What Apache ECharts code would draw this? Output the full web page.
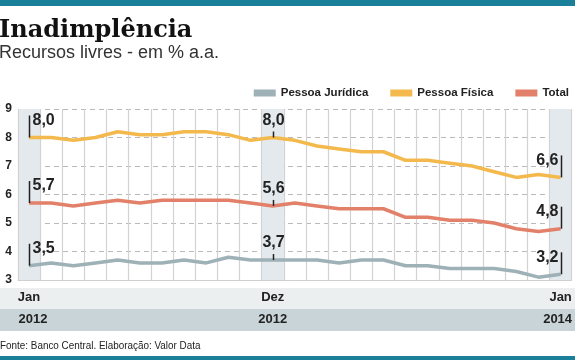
<!DOCTYPE html>
<html>
<head>
<meta charset="utf-8">
<script src="https://cdn.jsdelivr.net/npm/echarts@6/dist/echarts.min.js"></script>
<style>
  html, body { margin: 0; padding: 0; background: #fff; }
  #chart { width: 575px; height: 360px; }
</style>
</head>
<body>
<div id="chart"></div>
<script>
// ---- data ----
const categories = [
  'Jan/12','Fev/12','Mar/12','Abr/12','Mai/12','Jun/12','Jul/12','Ago/12','Set/12','Out/12','Nov/12','Dez/12',
  'Jan/13','Fev/13','Mar/13','Abr/13','Mai/13','Jun/13','Jul/13','Ago/13','Set/13','Out/13','Nov/13','Dez/13',
  'Jan/14'
];
const pessoaJuridica = [3.5, 3.6, 3.5, 3.6, 3.7, 3.6, 3.6, 3.7, 3.6, 3.8, 3.7, 3.7,
                        3.7, 3.7, 3.6, 3.7, 3.7, 3.5, 3.5, 3.4, 3.4, 3.4, 3.3, 3.1, 3.2];
const pessoaFisica   = [8.0, 8.0, 7.9, 8.0, 8.2, 8.1, 8.1, 8.2, 8.2, 8.1, 7.9, 8.0,
                        7.9, 7.7, 7.6, 7.5, 7.5, 7.2, 7.2, 7.1, 7.0, 6.8, 6.6, 6.7, 6.6];
const total          = [5.7, 5.7, 5.6, 5.7, 5.8, 5.7, 5.8, 5.8, 5.8, 5.8, 5.7, 5.6,
                        5.7, 5.6, 5.5, 5.5, 5.5, 5.2, 5.2, 5.1, 5.1, 5.0, 4.8, 4.7, 4.8];
const seriesNames = ['Pessoa Jurídica', 'Pessoa Física', 'Total'];
const markedIdx = [0, 11, 24];
const monthTickLabels = ['Jan', 'Dez', 'Jan'];
const yearTickLabels = ['2012', '2012', '2014'];
const yMin = 3, yMax = 9, yInterval = 1;

// ---- style ----
const colors = ['#9db1b6', '#f3b94c', '#e2806a'];
const shade = '#e3e9ed';
const dark = '#222';

const chart = echarts.init(document.getElementById('chart'), null, { renderer: 'canvas' });

const areaColors = categories.map((c, i) => markedIdx.includes(i) ? shade : 'rgba(0,0,0,0)');

function tickIndex(i) { return markedIdx.indexOf(i); }

const option = {
  backgroundColor: '#fff',
  animation: false,
  title: {
    text: 'Inadimplência',
    subtext: 'Recursos livres - em % a.a.',
    left: -1, top: 19, padding: 0, itemGap: 1,
    textStyle: { fontFamily: 'DejaVu Serif', fontWeight: 'bold', fontSize: 24, color: '#111' },
    subtextStyle: { fontFamily: 'Liberation Sans', fontSize: 18, color: '#333' }
  },
  legend: {
    right: 1, top: 82,
    icon: 'rect', itemWidth: 22, itemHeight: 7, itemGap: 22,
    textStyle: { fontFamily: 'Liberation Sans', fontWeight: 'bold', fontSize: 11.5, color: dark },
    data: seriesNames
  },
  grid: { left: 18, right: 0, top: 109, bottom: 80, containLabel: false },
  xAxis: [{
    type: 'category', data: categories, boundaryGap: true,
    axisLine: { show: true, lineStyle: { color: '#cfcfcf', width: 1 } },
    axisTick: { show: false },
    axisLabel: {
      interval: (i) => markedIdx.includes(i),
      formatter: (v, i) => monthTickLabels[tickIndex(i)] || '',
      margin: 11, fontFamily: 'Liberation Sans', fontWeight: 'bold', fontSize: 13, color: dark
    },
    splitLine: { show: true, interval: 0, lineStyle: { color: '#d2d2d2', width: 1.2 } },
    splitArea: { show: true, interval: 0, areaStyle: { color: areaColors } },
    z: 1
  }, {
    type: 'category', data: categories, boundaryGap: true, position: 'bottom',
    axisLine: { show: false }, axisTick: { show: false },
    splitLine: { show: false },
    axisLabel: {
      interval: (i) => markedIdx.includes(i),
      formatter: (v, i) => {
        const k = tickIndex(i);
        if (k < 0) return '';
        if (k === 0) return '{s|' + yearTickLabels[k] + '}';
        if (k === markedIdx.length - 1) return '{e|' + yearTickLabels[k] + '}';
        return yearTickLabels[k];
      },
      rich: {
        s: { padding: [0, 0, 0, 8], fontFamily: 'Liberation Sans', fontWeight: 'bold', fontSize: 13, color: dark },
        e: { padding: [0, 6, 0, 0], fontFamily: 'Liberation Sans', fontWeight: 'bold', fontSize: 13, color: dark }
      },
      margin: 33, fontFamily: 'Liberation Sans', fontWeight: 'bold', fontSize: 13, color: dark
    }
  }],
  yAxis: {
    type: 'value', min: yMin, max: yMax, interval: yInterval,
    axisLine: { show: false }, axisTick: { show: false },
    axisLabel: { margin: 6, fontFamily: 'Liberation Sans', fontWeight: 'bold', fontSize: 12, color: dark },
    splitLine: { show: true, lineStyle: { color: '#b9b9b9', type: [5, 4], width: 1 } }
  },
  graphic: [
    { id: 'topbar', type: 'rect', left: 0, top: 0, shape: { width: 575, height: 6 }, style: { fill: '#1a7f99' }, z: 0 },
    { id: 'band1', type: 'rect', left: 0, top: 288, shape: { width: 575, height: 21 }, style: { fill: '#eceff0' }, z: -10 },
    { id: 'band2', type: 'rect', left: 0, top: 309, shape: { width: 575, height: 22 }, style: { fill: '#c8d4d7' }, z: -10 },
    { id: 'botbar', type: 'rect', left: 0, top: 356, shape: { width: 575, height: 4 }, style: { fill: '#1a7f99' }, z: 0 },
    { id: 'source', type: 'text', x: 0, y: 352, scaleX: 0.86,
      style: { text: 'Fonte: Banco Central. Elaboração: Valor Data', fontFamily: 'Liberation Sans', fontSize: 11.5,
               verticalAlign: 'bottom', fill: '#222' } }
  ],
  series: [pessoaJuridica, pessoaFisica, total].map((d, k) => ({
    name: seriesNames[k], type: 'line', data: d, symbol: 'none', smooth: false,
    lineStyle: { width: 3.5, color: colors[k] }, itemStyle: { color: colors[k] }, z: 3
  }))
};
chart.setOption(option);

// annotations at the marked months, placed through the library's scales
function annotate() {
  const els = [];
  [pessoaJuridica, pessoaFisica, total].forEach((arr, s) => {
    markedIdx.forEach((i, k) => {
      const p = chart.convertToPixel({ xAxisIndex: 0, yAxisIndex: 0 }, [i, arr[i]]);
      const x = Math.round(p[0]) + 0.5, y = p[1];
      const txt = arr[i].toFixed(1).replace('.', ',');
      const font = { fontFamily: 'Liberation Sans', fontWeight: 'bold', fontSize: 16, fill: dark };
      if (k === 0 || k === markedIdx.length - 1) {
        els.push({ id: 'l' + s + k, type: 'line', shape: { x1: x, y1: y, x2: x, y2: y - 22 },
          style: { stroke: dark, lineWidth: 1.5 }, z: 10 });
        els.push({ id: 't' + s + k, type: 'text', x: k === 0 ? x + 3 : x - 3, y: y - 9,
          style: Object.assign({ text: txt, align: k === 0 ? 'left' : 'right', verticalAlign: 'bottom' }, font), z: 10 });
      } else {
        els.push({ id: 'l' + s + k, type: 'line', shape: { x1: x, y1: y, x2: x, y2: y - 6 },
          style: { stroke: dark, lineWidth: 1.5 }, z: 10 });
        els.push({ id: 't' + s + k, type: 'text', x: x, y: y - 9,
          style: Object.assign({ text: txt, align: 'center', verticalAlign: 'bottom' }, font), z: 10 });
      }
    });
  });
  chart.setOption({ graphic: els });
}
annotate();
</script>
</body>
</html>
